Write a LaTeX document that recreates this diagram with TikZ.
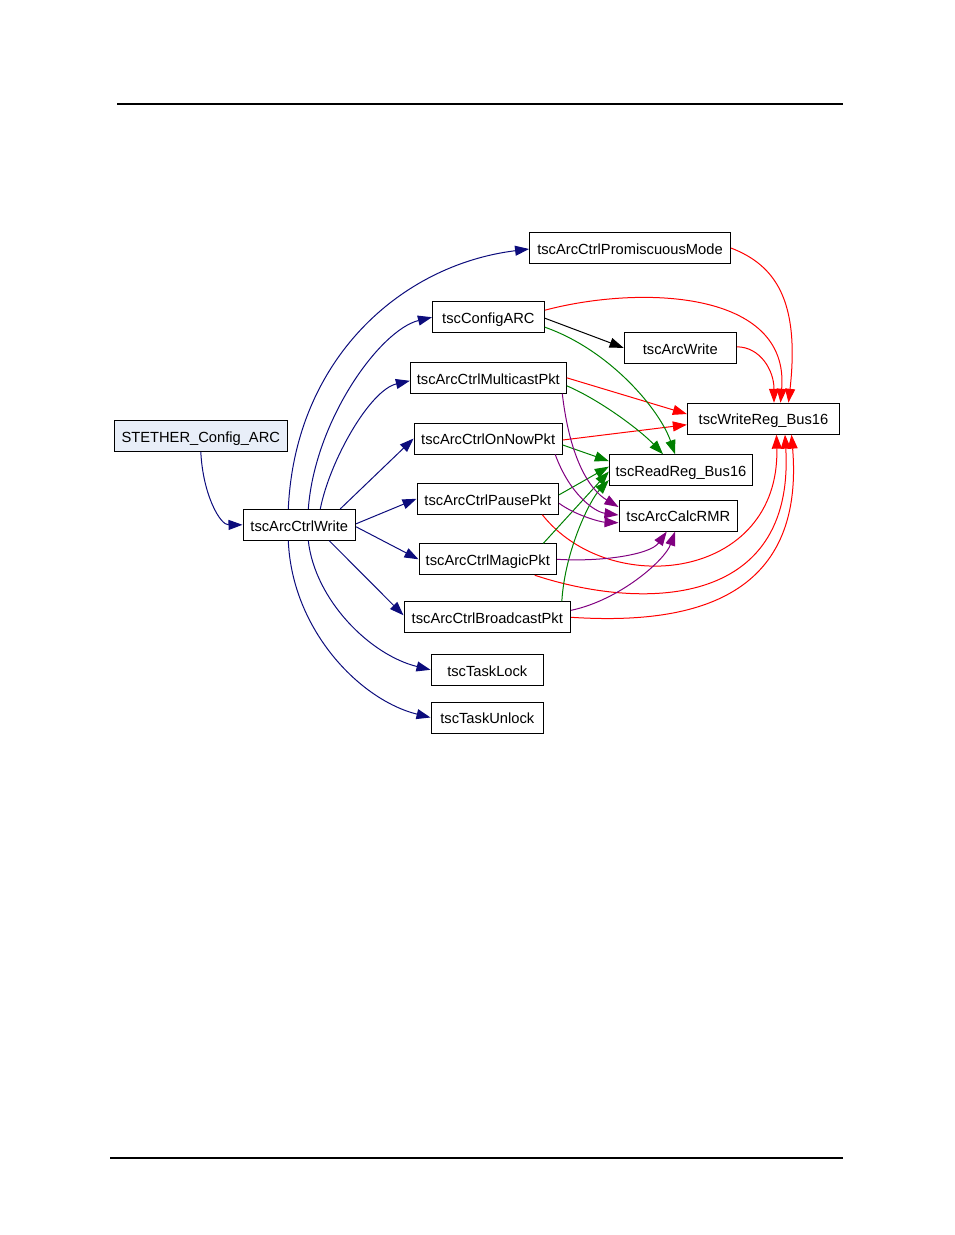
\documentclass[tikz,border=0pt]{standalone}
\usepackage{fontspec}
\setmainfont{Liberation Sans}
\usetikzlibrary{arrows.meta}
\definecolor{navyedge}{HTML}{0C0C7C}
\definecolor{rededge}{HTML}{FF0000}
\definecolor{greenedge}{HTML}{008000}
\definecolor{purpleedge}{HTML}{800080}
\definecolor{rootfill}{HTML}{E8EEF8}
\tikzset{
  box/.style={draw, line width=0.9pt, inner sep=0pt, text height=13pt, text depth=0.5pt,
    font=\fontsize{14.7}{17}\selectfont, anchor=center},
  tipstyle/.style={-{Triangle[length=14pt,width=10pt]}},
  nv/.style={draw=navyedge, line width=1pt, tipstyle},
  rd/.style={draw=rededge, line width=1pt, tipstyle},
  gn/.style={draw=greenedge, line width=1pt, tipstyle},
  pu/.style={draw=purpleedge, line width=1pt, tipstyle},
  bk/.style={draw=black, line width=1pt, tipstyle},
  rule/.style={line width=1.2pt}
}
\begin{document}
\begin{tikzpicture}[x=1pt,y=-1pt]
\useasboundingbox (0,0) rectangle (954,1235);
\draw[rule] (117,104) -- (843,104);
\draw[rule] (110,1158) -- (843,1158);

\node[box, minimum width=201pt, minimum height=30.6pt] (pm) at (630,248) {tscArcCtrlPromiscuousMode};
\node[box, minimum width=112pt, minimum height=31pt] (cfg) at (488.4,317.2) {tscConfigARC};
\node[box, minimum width=112.5pt, minimum height=31pt] (aw) at (680.3,347.8) {tscArcWrite};
\node[box, minimum width=156pt, minimum height=31pt] (mc) at (488.3,377.8) {tscArcCtrlMulticastPkt};
\node[box, minimum width=152.4pt, minimum height=31pt] (wr) at (763.5,418.7) {tscWriteReg\_Bus16};
\node[box, fill=rootfill, minimum width=173.7pt, minimum height=31pt] (st) at (200.8,436) {STETHER\_Config\_ARC};
\node[box, minimum width=148.3pt, minimum height=31pt] (on) at (488.2,438.5) {tscArcCtrlOnNowPkt};
\node[box, minimum width=143.4pt, minimum height=31pt] (rr) at (681,470.1) {tscReadReg\_Bus16};
\node[box, minimum width=141.7pt, minimum height=31pt] (pa) at (487.8,498.8) {tscArcCtrlPausePkt};
\node[box, minimum width=118.7pt, minimum height=31pt] (rmr) at (678.3,515.7) {tscArcCalcRMR};
\node[box, minimum width=112.7pt, minimum height=31pt] (cw) at (299.3,524.8) {tscArcCtrlWrite};
\node[box, minimum width=137.7pt, minimum height=31pt] (mg) at (487.8,559.3) {tscArcCtrlMagicPkt};
\node[box, minimum width=166.7pt, minimum height=31pt] (bc) at (487.3,617.3) {tscArcCtrlBroadcastPkt};
\node[box, minimum width=112.7pt, minimum height=31pt] (tl) at (487.3,669.8) {tscTaskLock};
\node[box, minimum width=112.7pt, minimum height=31pt] (tu) at (487.3,717.5) {tscTaskUnlock};

% navy edges
\draw[nv] (st.south) .. controls (203,495) and (220,525) .. (cw.west);
\draw[nv] ([xshift=-11pt]cw.north) .. controls (295,360) and (400,265) .. ([yshift=-1pt]pm.west);
\draw[nv] ([xshift=9pt]cw.north) .. controls (315,420) and (380,330) .. (cfg.west);
\draw[nv] ([xshift=21pt]cw.north) .. controls (330,460) and (370,390) .. ([yshift=-3pt]mc.west);
\draw[nv] ([xshift=41pt]cw.north) -- (on.west);
\draw[nv] ([yshift=1pt]cw.east) -- (pa.west);
\draw[nv] ([yshift=-2pt]cw.east) -- (mg.west);
\draw[nv] ([xshift=30pt]cw.south) -- ([yshift=2pt]bc.west);
\draw[nv] ([xshift=9pt]cw.south) .. controls (315,600) and (370,655) .. (tl.west);
\draw[nv] ([xshift=-11pt]cw.south) .. controls (292,630) and (360,700) .. (tu.west);

% black edge
\draw[bk] ([yshift=-1pt]cfg.east) -- (aw.west);

% red edges
\draw[rd] (pm.east) .. controls (775,265) and (800,300) .. ([xshift=25pt]wr.north);
\draw[rd] ([yshift=7pt]cfg.east) .. controls (640,285) and (790,290) .. ([xshift=17pt]wr.north);
\draw[rd] ([yshift=1pt]aw.east) .. controls (760,347) and (774,370) .. ([xshift=10.5pt]wr.north);
\draw[rd] (mc.east) -- ([yshift=4.7pt]wr.west);
\draw[rd] ([yshift=-1.5pt]on.east) -- ([yshift=-6pt]wr.west);
\draw[rd] ([xshift=54.5pt]pa.south) .. controls (610,600) and (780,580) .. ([xshift=13pt]wr.south);
\draw[rd] ([xshift=47pt]mg.south) .. controls (640,610) and (795,610) .. ([xshift=21.5pt]wr.south);
\draw[rd] (bc.east) .. controls (690,625) and (805,600) .. ([xshift=28pt]wr.south);

% green edges
\draw[gn] ([yshift=-10pt]cfg.east) .. controls (610,350) and (660,410) .. ([xshift=-6pt]rr.north);
\draw[gn] ([yshift=-8pt]mc.east) .. controls (600,400) and (640,430) .. ([xshift=-18pt]rr.north);
\draw[gn] ([yshift=-6.5pt]on.east) -- ([yshift=9pt]rr.west);
\draw[gn] ([yshift=4pt]pa.east) -- ([yshift=3.5pt]rr.west);
\draw[gn] ([xshift=55.5pt]mg.north) -- ([yshift=-1.5pt]rr.west);
\draw[gn] ([xshift=74.5pt]bc.north) .. controls (565,550) and (590,500) .. ([yshift=-10pt]rr.west);

% purple edges
\draw[pu] ([xshift=74pt]mc.south) .. controls (570,460) and (590,490) .. ([yshift=8.7pt]rmr.west);
\draw[pu] ([xshift=67pt]on.south) .. controls (570,495) and (595,512) .. ([yshift=0.7pt]rmr.west);
\draw[pu] ([yshift=-4.5pt]pa.east) .. controls (575,515) and (600,522) .. ([yshift=-7pt]rmr.west);
\draw[pu] (mg.east) .. controls (600,562) and (650,555) .. ([xshift=-11.6pt]rmr.south);
\draw[pu] ([yshift=7pt]bc.east) .. controls (620,600) and (665,560) .. ([xshift=-3.3pt]rmr.south);
\end{tikzpicture}
\end{document}
